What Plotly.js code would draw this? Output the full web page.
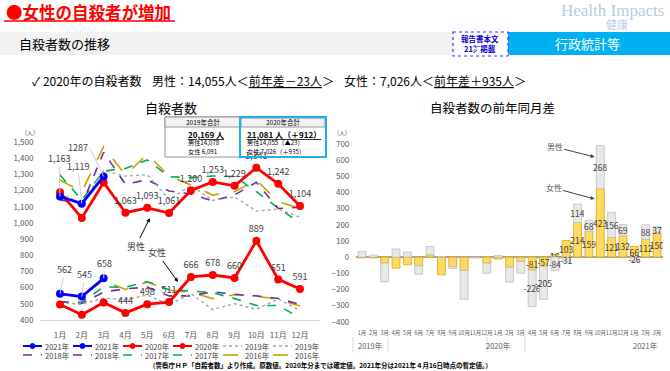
<!DOCTYPE html>
<html><head><meta charset="utf-8">
<script src="https://cdn.plot.ly/plotly-3.0.1.min.js"></script>
<style>html,body{margin:0;padding:0;background:#fff}#chart{width:670px;height:371px}</style>
</head><body><div id="chart"></div>
<script>
// ---------- data ----------
const months = ['1月','2月','3月','4月','5月','6月','7月','8月','9月','10月','11月','12月'];
const male2021 = [1163,1119,1287];
const female2021 = [562,545,658];
const male2021Labels = ['1,163','1,119','1287'];
const female2021Labels = ['562','545','658'];
const male2020 = [1189,1031,1250,1063,1093,1061,1200,1253,1229,1341,1242,1104];
const female2020 = [496,433,508,444,498,511,666,678,660,889,651,591];
const male2019 = [1179,1122,1323,1289,1298,1145,1231,1139,1161,1073,1086,1035];
const female2019 = [508,497,535,525,555,495,563,464,501,466,530,459];
const male2018 = [1144,1110,1437,1239,1267,1197,1179,1136,1173,1251,1089,1097];
const female2018 = [513,502,573,593,603,549,549,574,559,549,533,497];
const male2017 = [1296,1141,1321,1337,1389,1286,1280,1290,1287,1193,1092,1001];
const female2017 = [511,511,604,603,638,587,579,569,532,490,490,413];
const male2016 = [1265,1193,1471,1296,1424,1290,1234,1172,1193,1265,1131,1090];
const female2016 = [560,548,645,589,635,583,573,532,556,548,527,486];
const yearNames = ['2021年','2020年','2019年','2018年','2017年','2016年'];

const diffMonths = ['1月','2月','3月','4月','5月','6月','7月','8月','9月','10月','11月','12月',
                    '1月','2月','3月','4月','5月','6月','7月','8月','9月','10月','11月','12月',
                    '1月','2月','3月'];
const diffYears = ['2019年','2020年','2021年'];
const diffFemale = [-5,-5,-38,-68,-48,-54,14,-110,-58,-83,-3,-38,
                    -12,-64,-27,-81,-57,16,103,214,159,423,121,132,
                    66,112,150];
const diffMale = [35,12,-114,50,31,-52,52,3,-12,-178,-3,-62,
                  10,-91,-73,-226,-205,-84,-31,114,68,268,156,69,
                  -26,88,37];
const labelFrom = 15; // labels shown from 2020年4月

// ---------- helpers ----------
const FONT = '"Noto Sans CJK JP", "Noto Sans", sans-serif';
const W = 670, H = 371;
const P = x => x / W, Q = y => 1 - y / H;
const fmt = v => v.toLocaleString('en-US');
function txt(text, x, y, size, color, opts) {
  return Object.assign({xref:'paper', yref:'paper', x:P(x), y:Q(y), text:text, showarrow:false,
    font:{size:size, color:color, family:FONT}, xanchor:'center', yanchor:'middle'}, opts || {});
}
function rect(x0, y0, x1, y1, fill, line, lw, dash) {
  return {type:'rect', xref:'paper', yref:'paper', x0:P(x0), x1:P(x1), y0:Q(y0), y1:Q(y1),
    fillcolor:fill, line:{color:line, width:lw, dash:dash || 'solid'}, layer:'above'};
}
function seg(x0, y0, x1, y1, color, w, dash) {
  return {type:'line', xref:'paper', yref:'paper', x0:P(x0), x1:P(x1), y0:Q(y0), y1:Q(y1),
    line:{color:color, width:w, dash:dash || 'solid'}};
}

// ---------- left chart traces ----------
const traces = [];
const styles = [
  // [year index, male, female, color, dash, width, markers]
  [5, male2016, female2016, '#c9a000', 'longdash', 1.6, false],
  [4, male2017, female2017, '#00b050', 'dash', 1.6, false],
  [3, male2018, female2018, '#7030a0', 'dash', 1.6, false],
  [2, male2019, female2019, '#a6a6a6', 'dot', 1.4, false],
  [1, male2020, female2020, '#ff0000', 'solid', 2.8, true],
  [0, male2021, female2021, '#0000ff', 'solid', 2.8, true],
];
styles.forEach(s => {
  const [yi, m, f, color, dash, width, mk] = s;
  [m, f].forEach(arr => {
    traces.push({
      type:'scatter', x: months.slice(0, arr.length), y: arr, xaxis:'x', yaxis:'y',
      name: yearNames[yi], mode: mk ? 'lines+markers' : 'lines', showlegend:false,
      line:{color:color, dash:dash, width:width},
      marker:{color:color, size:8, symbol:'circle'}, hoverinfo:'skip'
    });
  });
});
// 2020 data labels
[male2020, female2020].forEach(arr => {
  traces.push({
    type:'scatter', x: months, y: arr, xaxis:'x', yaxis:'y', mode:'markers+text',
    marker:{size:9, opacity:0}, showlegend:false, hoverinfo:'skip',
    text: arr.map((v, i) => i >= 3 ? fmt(v) : ''), textposition:'top center',
    textfont:{size:9, color:'#404040', family:FONT}, cliponaxis:false
  });
});

// ---------- right chart traces ----------
const diffX = diffMonths.map((_, i) => i);
traces.push({
  type:'bar', x: diffX, y: diffFemale, xaxis:'x2', yaxis:'y2', name:'女性', showlegend:false,
  marker:{color:'#ffd966', line:{color:'#d6a800', width:0.8}},
  text: diffFemale.map((v, i) => i >= labelFrom ? String(v) : ''),
  textposition:'inside', insidetextanchor:'middle', constraintext:'none', textangle:0,
  insidetextfont:{size:8.5, color:'#404040', family:FONT}, hoverinfo:'skip'
});
traces.push({
  type:'bar', x: diffX, y: diffMale, xaxis:'x2', yaxis:'y2', name:'男性', showlegend:false,
  marker:{color:'#e8e8e8', line:{color:'#bfbfbf', width:0.8}},
  text: diffMale.map((v, i) => i >= labelFrom ? String(v) : ''),
  textposition:'inside', insidetextanchor:'middle', constraintext:'none', textangle:0,
  insidetextfont:{size:8.5, color:'#404040', family:FONT}, hoverinfo:'skip'
});

// ---------- annotations ----------
const ann = [];
const shapes = [];
// header
ann.push(txt('●女性の自殺者が増加', 4, 12, 16.5, '#ff0000', {xanchor:'left', font:{size:16.5, color:'#ff0000', family:FONT, weight:'bold'}}));
ann.push(txt('Health Impacts', 666, 10, 17, '#b8cce4', {xanchor:'right', font:{size:17, color:'#b8cce4', family:'"Liberation Serif", serif'}}));
ann.push(txt('健康', 617, 24, 11, '#b8cce4'));
ann.push(txt('自殺者数の推移', 17, 44, 13, '#000000', {xanchor:'left'}));
ann.push(txt('<b>報告書本文</b>', 480, 38, 7.5, '#0000cc'));
ann.push(txt('<b>21㌻掲載</b>', 480, 49, 7.5, '#0000cc'));
ann.push(txt('行政統計等', 587, 44, 13, '#ffffff'));
ann.push(txt('✓ 2020年の自殺者数', 30, 80, 12, '#000000', {xanchor:'left'}));
ann.push(txt('男性：14,055人＜<u>前年差－23人</u>＞', 150, 80, 12, '#000000', {xanchor:'left'}));
ann.push(txt('女性：7,026人＜<u>前年差＋935人</u>＞', 342, 80, 12, '#000000', {xanchor:'left'}));
// chart titles
ann.push(txt('自殺者数', 171, 108, 13, '#000000'));
ann.push(txt('自殺者数の前年同月差', 492, 108, 12.5, '#000000'));
ann.push(txt('（人）', 30, 133, 6, '#595959'));
ann.push(txt('(人)', 342, 133, 6, '#595959'));
// table
ann.push(txt('2019年合計', 203, 122, 6.5, '#000000'));
ann.push(txt('2020年合計', 283, 122, 6.5, '#000000'));
ann.push(txt('<b><u>20,169 人</u></b>', 186, 134, 8, '#000000', {xanchor:'left'}));
ann.push(txt('男性14,078', 186, 143, 6.2, '#000000', {xanchor:'left'}));
ann.push(txt('女性 6,091', 186, 151, 6.2, '#000000', {xanchor:'left'}));
ann.push(txt('<b><u>21,081 人（＋912）</u></b>', 245, 134, 8, '#000000', {xanchor:'left'}));
ann.push(txt('男性14,055（▲23）', 245, 143, 6.2, '#000000', {xanchor:'left'}));
ann.push(txt('女性 7,026（＋935）', 245, 151, 6.2, '#000000', {xanchor:'left'}));
// 2021 labels with leader lines
const off2021m = [[-1,-38],[-4,-37],[-14,-29]];
const anc2021m = ['center','center','right'];
const off2021f = [[5,-24],[3,-22],[1,-15]];
male2021.forEach((v, i) => ann.push({xref:'x', yref:'y', x:i, y:v, text:male2021Labels[i], showarrow:true,
  arrowhead:0, arrowcolor:'#d0d0d0', arrowwidth:1, ax:off2021m[i][0], ay:off2021m[i][1],
  xanchor:anc2021m[i], yanchor:'middle', font:{size:9, color:'#404040', family:FONT}}));
female2021.forEach((v, i) => ann.push({xref:'x', yref:'y', x:i, y:v, text:female2021Labels[i], showarrow:true,
  arrowhead:0, arrowcolor:'#d0d0d0', arrowwidth:1, ax:off2021f[i][0], ay:off2021f[i][1],
  xanchor:'center', yanchor:'middle', font:{size:9, color:'#404040', family:FONT}}));
// 男性 / 女性 arrows (left)
ann.push({xref:'x', yref:'y', x:4.12, y:1030, text:'男性', showarrow:true, arrowhead:2, arrowsize:0.8,
  arrowwidth:1, arrowcolor:'#000', ax:-14, ay:28, font:{size:9, color:'#404040', family:FONT}});
ann.push({xref:'x', yref:'y', x:5.41, y:635, text:'女性', showarrow:true, arrowhead:2, arrowsize:0.8,
  arrowwidth:1, arrowcolor:'#000', ax:-21, ay:-29, font:{size:9, color:'#404040', family:FONT}});
// 男性 / 女性 arrows (right)
ann.push({xref:'x2', yref:'y2', x:20.5, y:620, text:'男性', showarrow:true, arrowhead:2, arrowsize:0.8,
  arrowwidth:1, arrowcolor:'#404040', ax:-40, ay:-10, font:{size:8, color:'#595959', family:FONT}});
ann.push({xref:'x2', yref:'y2', x:20.5, y:360, text:'女性', showarrow:true, arrowhead:2, arrowsize:0.8,
  arrowwidth:1, arrowcolor:'#404040', ax:-41, ay:-11, font:{size:8, color:'#595959', family:FONT}});
// right chart year labels
const yearPos = [[370, 345], [498, 345], [645, 345]];
diffYears.forEach((y, i) => ann.push(txt(y, yearPos[i][0], yearPos[i][1], 7.5, '#595959')));
// footnote
ann.push(txt('<b>（警察庁ＨＰ「自殺者数」より作成。原数値。2020年分までは確定値。2021年分は2021年４月16日時点の暫定値。）</b>',
  320, 365, 6.5, '#000000'));

// ---------- legend (left chart), built from the series styles ----------
styles.forEach(s => {
  const [yi, , , color, dash, width, mk] = s;
  const row = yi < 3 ? 0 : 1;
  for (let k = 0; k < 2; k++) {
    const col = (yi % 3) * 2 + k;
    const x0 = 23 + col * 50, y = row ? 355 : 346;
    shapes.push(seg(x0, y, x0 + 19, y, color, Math.min(width, 2), dash));
    if (mk) shapes.push({type:'circle', xref:'paper', yref:'paper', x0:P(x0 + 7), x1:P(x0 + 12),
      y0:Q(y + 2.5), y1:Q(y - 2.5), fillcolor:color, line:{color:color, width:1}});
    ann.push(txt(yearNames[yi], x0 + 20, y, 7.5, '#404040', {xanchor:'left'}));
  }
});

// ---------- shapes ----------
shapes.push(
  rect(0, 32, 453, 55, '#f2f2f2', 'rgba(0,0,0,0)', 0),
  rect(508, 32, 670, 55, '#00b0f0', 'rgba(0,0,0,0)', 0),
  rect(453, 32, 508, 56, 'rgba(0,0,0,0)', '#3333ff', 1.2, 'dot'),
  seg(4, 21, 175, 21, '#ff3b3b', 2),
  // table
  rect(165, 117, 240, 157, '#ffffff', '#7f7f7f', 0.8),
  rect(165, 117, 240, 127, '#f2f2f2', '#7f7f7f', 0.8),
  rect(241, 118, 325, 127, '#f2f2f2', '#7f7f7f', 0.8),
  rect(240, 117, 326, 157, 'rgba(0,0,0,0)', '#1fb0ec', 2),
  // right year dividers
  seg(353, 337, 353, 352, '#d9d9d9', 1), seg(388, 337, 388, 352, '#d9d9d9', 1),
  seg(487, 337, 487, 352, '#d9d9d9', 1), seg(525, 337, 525, 352, '#d9d9d9', 1)
);

const axisFont = {size:8, color:'#595959', family:FONT};
const layout = {
  width: W, height: H, margin:{l:0, r:0, t:0, b:0}, paper_bgcolor:'#ffffff', plot_bgcolor:'rgba(0,0,0,0)',
  font:{family:FONT}, showlegend:false,
  barmode:'relative', bargap:0.3,
  xaxis:{domain:[P(40.4), P(319.6)], anchor:'y', type:'category', showgrid:false, zeroline:false,
    showline:true, linecolor:'#d9d9d9', linewidth:1, ticks:'', tickfont:axisFont, ticklabelstandoff:7, fixedrange:true},
  yaxis:{domain:[Q(320), Q(142)], anchor:'x', range:[400, 1500], dtick:100, tickformat:',d', showgrid:false,
    zeroline:false, showline:false, ticks:'', tickfont:axisFont, ticklabelstandoff:6, fixedrange:true},
  xaxis2:{domain:[P(356.3), P(662.7)], anchor:'y2', range:[-0.5, 26.5], tickvals:diffX, ticktext:diffMonths,
    showgrid:false, zeroline:false, showline:false, ticks:'', tickangle:0,
    tickfont:{size:5.5, color:'#595959', family:FONT}, ticklabelstandoff:7, fixedrange:true},
  yaxis2:{domain:[Q(321.7), Q(144)], anchor:'x2', range:[-400, 700], dtick:100, showgrid:false,
    zeroline:true, zerolinecolor:'#a6a6a6', zerolinewidth:2, showline:false, ticks:'',
    tickfont:axisFont, ticklabelstandoff:6, fixedrange:true},
  annotations: ann, shapes: shapes
};
Plotly.newPlot('chart', traces, layout, {displayModeBar:false, staticPlot:true});
</script></body></html>
